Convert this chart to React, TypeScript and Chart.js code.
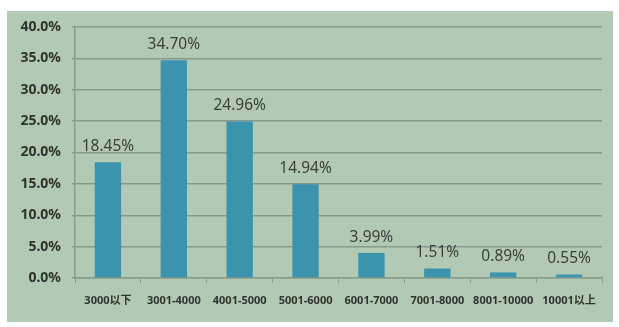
import React, { useEffect, useRef } from "react";
import { Chart, registerables } from "chart.js";

Chart.register(...registerables);

const categories = ["3000以下", "3001-4000", "4001-5000", "5001-6000", "6001-7000", "7001-8000", "8001-10000", "10001以上"];
const shares = [18.45, 34.7, 24.96, 14.94, 3.99, 1.51, 0.89, 0.55];
const yMin = 0;
const yMax = 40;
const yStep = 5;

const FONT = "'Noto Sans', 'Noto Sans CJK SC', sans-serif";

const valueLabels = {
  id: "valueLabels",
  afterDatasetsDraw(chart: any) {
    const ctx = chart.ctx;
    const meta = chart.getDatasetMeta(0);
    ctx.save();
    ctx.font = `15.5px ${FONT}`;
    ctx.fillStyle = "#3a3f3a";
    ctx.textAlign = "center";
    ctx.textBaseline = "bottom";
    meta.data.forEach((bar: any, i: number) => {
      ctx.fillText(shares[i].toFixed(2) + "%", bar.x, bar.y - 8);
    });
    ctx.restore();
  },
};

export default function App() {
  const ref = useRef<HTMLCanvasElement>(null);
  useEffect(() => {
    if (!ref.current) return;
    const chart = new Chart(ref.current, {
      type: "bar",
      data: {
        labels: categories,
        datasets: [
          {
            data: shares,
            backgroundColor: "#3b93ae",
            borderWidth: 0,
            barPercentage: 0.4,
            categoryPercentage: 1,
          },
        ],
      },
      options: {
        animation: false,
        responsive: false,
        maintainAspectRatio: false,
        layout: { padding: { left: 0, right: 11, top: 16, bottom: 0 } },
        plugins: { legend: { display: false }, tooltip: { enabled: false } },
        scales: {
          x: {
            grid: {
              drawOnChartArea: false,
              drawTicks: true,
              tickLength: 5,
              offset: true,
              color: "#8a9c8c",
            },
            border: { color: "#8a9c8c", width: 1.5 },
            ticks: {
              color: "#2e332e",
              font: { family: FONT, size: 11, weight: "bold" },
              padding: 11,
              maxRotation: 0,
              autoSkip: false,
            },
            afterFit(scale: any) {
              scale.height = 44;
              scale.paddingLeft = 0;
              scale.paddingRight = 0;
            },
          },
          y: {
            min: yMin,
            max: yMax,
            grid: {
              color: "#86998a",
              lineWidth: 1.5,
              drawTicks: true,
              tickLength: 3,
            },
            border: { color: "#8a9c8c", width: 1.5 },
            ticks: {
              stepSize: yStep,
              color: "#2e332e",
              font: { family: FONT, size: 14, weight: "bold" },
              padding: 11,
              callback: (v: any) => Number(v).toFixed(1) + "%",
            },
            afterFit(scale: any) {
              scale.width = 68;
              scale.paddingTop = 0;
              scale.paddingBottom = 0;
            },
          },
        },
      },
      plugins: [valueLabels],
    });
    return () => chart.destroy();
  }, []);
  return (
    <div style={{ position: "absolute", left: 0, top: 0, width: 619, height: 327, background: "#ffffff" }}>
      <div style={{ position: "absolute", left: 7, top: 11, width: 606, height: 311, background: "#b2c9b3" }}>
        <canvas ref={ref} width={606} height={311} style={{ display: "block" }} />
      </div>
    </div>
  );
}
